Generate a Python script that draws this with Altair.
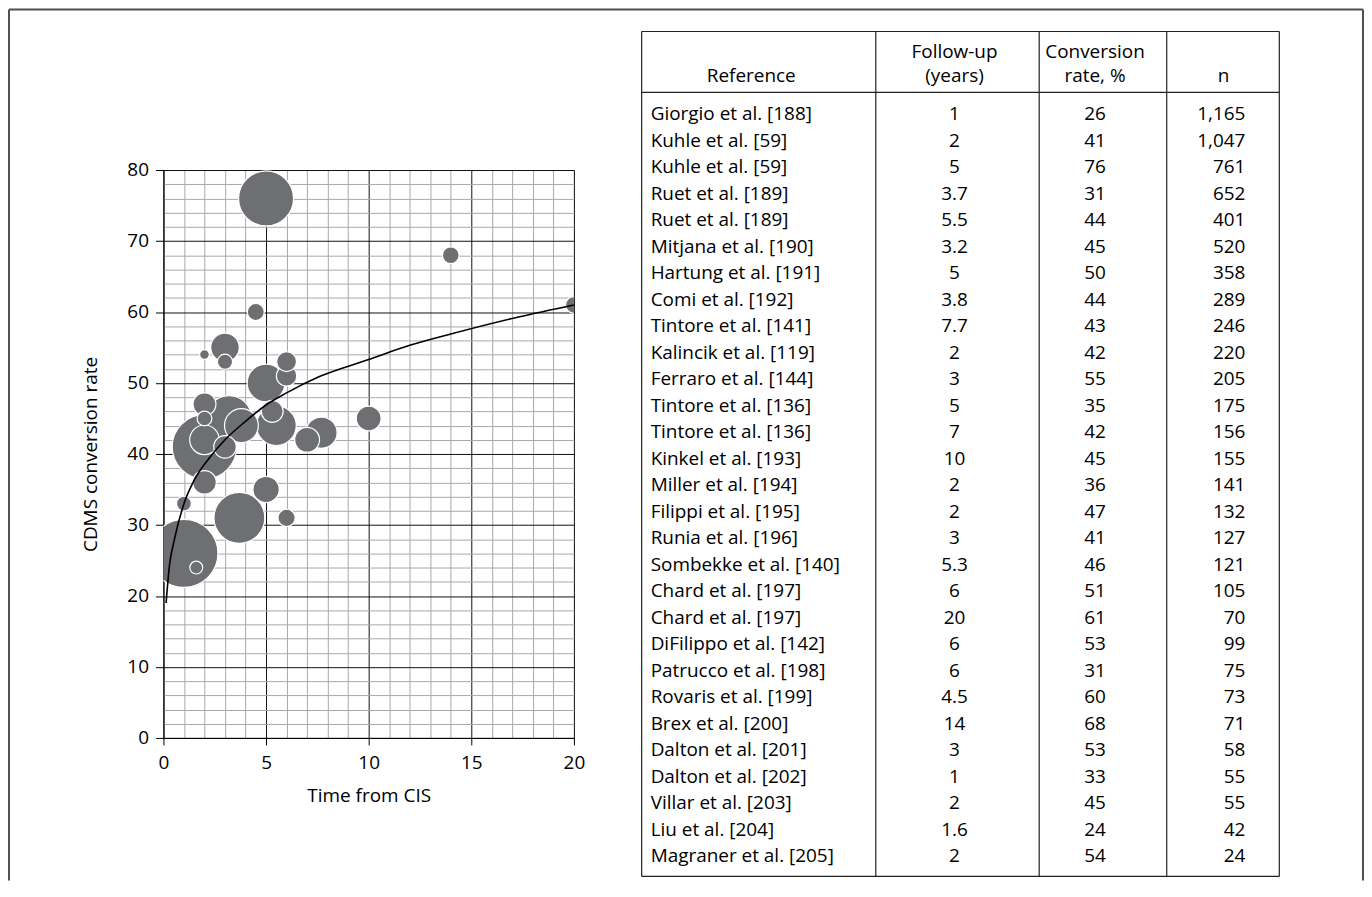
import altair as alt
import pandas as pd

# ---------------- data ----------------
refs = ["Giorgio et al. [188]", "Kuhle et al. [59]", "Kuhle et al. [59]", "Ruet et al. [189]",
        "Ruet et al. [189]", "Mitjana et al. [190]", "Hartung et al. [191]", "Comi et al. [192]",
        "Tintore et al. [141]", "Kalincik et al. [119]", "Ferraro et al. [144]", "Tintore et al. [136]",
        "Tintore et al. [136]", "Kinkel et al. [193]", "Miller et al. [194]", "Filippi et al. [195]",
        "Runia et al. [196]", "Sombekke et al. [140]", "Chard et al. [197]", "Chard et al. [197]",
        "DiFilippo et al. [142]", "Patrucco et al. [198]", "Rovaris et al. [199]", "Brex et al. [200]",
        "Dalton et al. [201]", "Dalton et al. [202]", "Villar et al. [203]", "Liu et al. [204]",
        "Magraner et al. [205]"]
followup = [1, 2, 5, 3.7, 5.5, 3.2, 5, 3.8, 7.7, 2, 3, 5, 7, 10, 2, 2, 3, 5.3, 6, 20,
            6, 6, 4.5, 14, 3, 1, 2, 1.6, 2]
rate = [26, 41, 76, 31, 44, 45, 50, 44, 43, 42, 55, 35, 42, 45, 36, 47, 41, 46, 51, 61,
        53, 31, 60, 68, 53, 33, 45, 24, 54]
n = [1165, 1047, 761, 652, 401, 520, 358, 289, 246, 220, 205, 175, 156, 155, 141, 132, 127,
     121, 105, 70, 99, 75, 73, 71, 58, 55, 55, 42, 24]

# fitted curve, points
curve_x = [0.13, 0.29, 0.53, 1.0, 1.5, 2.2, 3.0, 4.0, 5.0, 6.0, 7.6, 10, 12, 14, 17.3, 20]
curve_y = [19, 24.2, 27.9, 33, 36.3, 39.3, 42, 44.6, 46.9, 48.6, 50.9, 53.3, 55.3, 56.9, 59.3, 61]

x_ticks = list(range(0, 21))
y_ticks = list(range(0, 81, 2))

FONT = "Open Sans"
FS = 19

df = pd.DataFrame({
    "ref": refs,
    "followup": followup,
    "rate": rate,
    "n": n,
    "row": list(range(len(refs))),
    "fu_txt": [("%g" % v) for v in followup],
    "rate_txt": [str(v) for v in rate],
    "n_txt": [f"{v:,}" for v in n],
})
curve = pd.DataFrame({"followup": curve_x, "rate": curve_y})

# ---------------- layout (pixels, relative to plot origin) ----------------
PLOT_W, PLOT_H = 412, 570
PAD_L, PAD_T = 156, 161
TOTAL_W, TOTAL_H = 1361, 874
PAD_R = TOTAL_W - PAD_L - PLOT_W
PAD_B = TOTAL_H - PAD_T - PLOT_H

def px(page_x):
    return page_x - 8 - PAD_L

def py(page_y):
    return page_y - 8 - PAD_T

# ---------------- scatter ----------------
x_scale = alt.Scale(domain=[0, 20], nice=False, zero=False)
y_scale = alt.Scale(domain=[0, 80], nice=False, zero=False)

x_axis = alt.Axis(
    values=x_ticks, tickCount=100, format="d", title="Time from CIS",
    labelExpr="datum.value % 5 === 0 ? datum.label : ''",
    grid=True,
    gridColor={"condition": {"test": "datum.value % 5 === 0", "value": "#111111"}, "value": "#a9a9a9"},
    gridWidth=1, gridOpacity=1,
    tickOpacity={"condition": {"test": "datum.value % 5 === 0", "value": 1}, "value": 0},
    tickColor="black", tickSize=7, domainColor="black", domainWidth=1,
    labelFont=FONT, labelFontSize=FS, labelColor="black", labelPadding=9,
    titleFont=FONT, titleFontSize=FS, titleFontWeight="normal", titleColor="black", titlePadding=14,
    labelFlush=False, labelOverlap=False,
)
y_axis = alt.Axis(
    values=y_ticks, tickCount=100, format="d", title="CDMS conversion rate",
    labelExpr="datum.value % 10 === 0 ? datum.label : ''",
    grid=True,
    gridColor={"condition": {"test": "datum.value % 10 === 0", "value": "#111111"}, "value": "#a9a9a9"},
    gridWidth=1, gridOpacity=1,
    tickOpacity={"condition": {"test": "datum.value % 10 === 0", "value": 1}, "value": 0},
    tickColor="black", tickSize=8, domainColor="black", domainWidth=1,
    labelFont=FONT, labelFontSize=FS, labelColor="black", labelPadding=7,
    titleFont=FONT, titleFontSize=FS, titleFontWeight="normal", titleColor="black", titlePadding=26,
    labelFlush=False, labelOverlap=False,
)

bubbles = alt.Chart(df).mark_circle(
    color="#6e6f72", opacity=1, stroke="white", strokeWidth=1.2, clip=True
).encode(
    x=alt.X("followup:Q", scale=x_scale, axis=x_axis),
    y=alt.Y("rate:Q", scale=y_scale, axis=y_axis),
    size=alt.Size("n:Q", scale=alt.Scale(domain=[0, 1165], range=[0, 4660]), legend=None),
    order=alt.Order("row:Q"),
)

fit = alt.Chart(curve).mark_line(
    color="black", strokeWidth=1.6, interpolate="monotone", clip=True
).encode(
    x=alt.X("followup:Q", scale=x_scale, axis=x_axis),
    y=alt.Y("rate:Q", scale=y_scale, axis=y_axis),
)

scatter = alt.layer(bubbles, fit)

# ---------------- table ----------------
T_LEFT, T_RIGHT, T_TOP, T_BOTTOM = 644, 1284, 30, 878
T_HEAD = 91
DIVS = [879, 1043, 1171]
ROW0, ROWN = 113, 858

row_y = alt.Y("row:Q", scale=alt.Scale(domain=[0, len(refs) - 1],
                                       range=[py(ROW0), py(ROWN)], nice=False, zero=False),
              axis=None)

def col_text(field, align, page_x):
    return alt.Chart(df).mark_text(
        align=align, baseline="middle", font=FONT, fontSize=FS, color="black"
    ).encode(x=alt.value(px(page_x)), y=row_y, text=f"{field}:N")

t_ref = col_text("ref", "left", 653)
t_fu = col_text("fu_txt", "center", 958)
t_rate = col_text("rate_txt", "center", 1099)
t_n = col_text("n_txt", "right", 1250)

def header(txt, page_x, page_y):
    return alt.Chart(df.head(1)).mark_text(
        text=txt, align="center", baseline="middle", font=FONT, fontSize=FS, color="black"
    ).encode(x=alt.value(px(page_x)), y=alt.value(py(page_y)))

headers = [
    header("Reference", 754, 75),
    header("Follow-up", 958, 51),
    header("(years)", 958, 75),
    header("Conversion", 1099, 51),
    header("rate, %", 1099, 75),
    header("n", 1228, 75),
]

def rule(page_x1, page_y1, page_x2, page_y2, color="#222222", width=1.2):
    return alt.Chart(df.head(1)).mark_rule(color=color, strokeWidth=width).encode(
        x=alt.value(px(page_x1)), x2=alt.value(px(page_x2)),
        y=alt.value(py(page_y1)), y2=alt.value(py(page_y2)),
    )

table_lines = [
    rule(T_LEFT, T_TOP, T_RIGHT, T_TOP),
    rule(T_LEFT, T_BOTTOM, T_RIGHT, T_BOTTOM),
    rule(T_LEFT, T_TOP, T_LEFT, T_BOTTOM),
    rule(T_RIGHT, T_TOP, T_RIGHT, T_BOTTOM),
    rule(T_LEFT, T_HEAD, T_RIGHT, T_HEAD),
] + [rule(d, T_TOP, d, T_BOTTOM) for d in DIVS]

# outer frame (left, top, right; bottom runs off the page)
frame = [
    rule(9, 8, 1368, 8, color="#505050", width=2),
    rule(9, 8, 9, 8 + TOTAL_H, color="#505050", width=2),
    rule(1368, 8, 1368, 8 + TOTAL_H, color="#505050", width=2),
]

table = alt.layer(t_ref, t_fu, t_rate, t_n, *headers, *table_lines, *frame)

chart = alt.layer(scatter, table).resolve_scale(
    y="independent", x="independent"
).properties(
    width=PLOT_W, height=PLOT_H,
    padding={"left": PAD_L, "top": PAD_T, "right": PAD_R, "bottom": PAD_B},
    autosize=alt.AutoSizeParams(type="none"),
).configure_view(stroke=None).configure(background="white")

chart.save("out.html", embed_options={"renderer": "svg", "actions": False})
